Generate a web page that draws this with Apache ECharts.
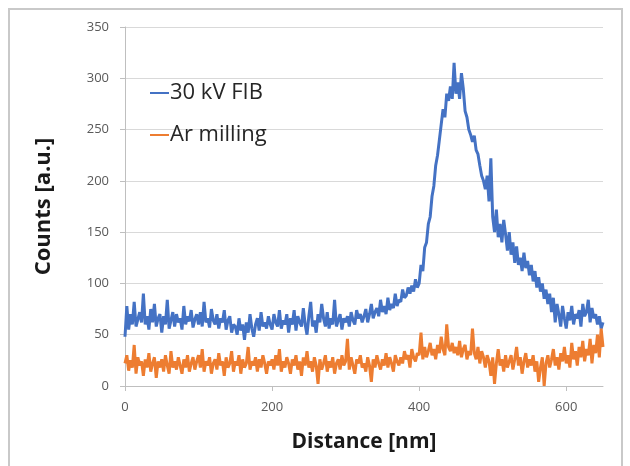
<!DOCTYPE html>
<html>
<head>
<meta charset="utf-8">
<script src="https://cdn.jsdelivr.net/npm/echarts@6/dist/echarts.min.js"></script>
<style>
html,body{margin:0;padding:0;background:#fff;}
#chart{width:630px;height:466px;}
</style>
</head>
<body>
<div id="chart"></div>
<script>
// Sampling grid of the profiles (nm)
const distanceStart = 0;
const distanceStep = 2.5;

// 30 kV FIB profile (counts), one value per 2.5 nm from 0 to 650 nm
const fibCounts = [
  48, 78, 55, 70, 60, 82, 58, 65, 72, 62,
  90, 60, 68, 55, 75, 62, 80, 58, 66, 70,
  52, 68, 60, 84, 56, 64, 72, 58, 70, 62,
  66, 55, 78, 60, 68, 63, 74, 57, 65, 70,
  60, 72, 58, 82, 62, 66, 57, 75, 64, 60,
  70, 56, 66, 62, 74, 55, 64, 68, 52, 60,
  58, 50, 66, 54, 60, 45, 62, 52, 70, 56,
  48, 60, 66, 54, 72, 58, 62, 56, 68, 60,
  55, 70, 62, 58, 74, 56, 64, 60, 70, 52,
  66, 60, 74, 54, 68, 62, 58, 76, 60, 50,
  68, 82, 58, 64, 52, 70, 62, 80, 66, 58,
  72, 56, 66, 60, 84, 58, 64, 70, 55, 66,
  62, 68, 58, 72, 64, 60, 74, 66, 70, 62,
  68, 75, 62, 70, 80, 66, 72, 76, 68, 84,
  72, 78, 70, 86, 74, 80, 76, 90, 78, 84,
  82, 94, 86, 88, 96, 90, 98, 92, 104, 96,
  100, 118, 112, 135, 140, 158, 165, 185, 195, 215,
  225, 240, 255, 270, 262, 285, 278, 292, 280, 315,
  285, 296, 280, 305, 290, 268, 262, 250, 245, 238,
  244, 230, 226, 215, 205, 200, 192, 205, 180, 222,
  165, 150, 172, 145, 158, 140, 162, 148, 132, 150,
  128, 140, 120, 136, 118, 125, 112, 130, 115, 122,
  108, 118, 102, 112, 96, 106, 92, 100, 85, 94,
  80, 90, 72, 86, 62, 80, 70, 58, 78, 66,
  56, 72, 64, 78, 60, 70, 66, 74, 58, 80,
  68, 72, 84, 62, 76, 66, 70, 60, 68, 56,
  62
];

// Ar milling profile (counts), same sampling
const arCounts = [
  22, 30, 15, 25, 18, 40, 12, 28, 20, 24,
  10, 26, 18, 32, 14, 22, 28, 8, 24, 18,
  26, 14, 30, 20, 12, 34, 18, 24, 16, 28,
  20, 12, 26, 18, 30, 14, 22, 28, 16, 24,
  30, 18, 36, 14, 24, 20, 28, 12, 22, 26,
  16, 32, 20, 24, 10, 28, 18, 22, 34, 14,
  24, 20, 30, 12, 26, 18, 22, 38, 16, 24,
  20, 28, 14, 26, 18, 30, 22, 12, 24, 20,
  26, 16, 30, 20, 36, 14, 24, 18, 28, 22,
  12, 26, 20, 30, 16, 24, 10, 28, 20, 34,
  18, 24, 14, 28, 20, 2, 26, 16, 22, 30,
  14, 24, 18, 28, 12, 22, 26, 16, 30, 20,
  24, 46, 16, 28, 20, 12, 26, 22, 30, 18,
  22, 14, 28, 20, 4, 26, 18, 30, 22, 16,
  26, 20, 32, 18, 28, 22, 14, 30, 24, 20,
  28, 22, 34, 26, 30, 18, 36, 28, 24, 32,
  30, 52, 26, 38, 28, 34, 42, 30, 36, 26,
  40, 32, 48, 36, 30, 60, 38, 34, 42, 32,
  38, 30, 44, 28, 36, 40, 26, 34, 30, 56,
  32, 26, 38, 22, 34, 28, 18, 30, 24, 10,
  28, 2, 22, 36, 20, 26, 14, 30, 18, 24,
  30, 16, 26, 38, 20, 28, 12, 24, 32, 18,
  26, 20, 30, 14, 24, 4, 18, 28, 0, 22,
  30, 18, 26, 36, 20, 28, 16, 32, 24, 38,
  22, 30, 18, 42, 26, 34, 20, 38, 28, 44,
  24, 36, 30, 46, 22, 40, 32, 50, 28, 56,
  38
];

const seriesNames = ['30 kV FIB', 'Ar milling'];
const xTicks = [0, 200, 400, 600];
const yTicks = [0, 50, 100, 150, 200, 250, 300, 350];

function toPairs(values) {
  return values.map((v, i) => [distanceStart + i * distanceStep, v]);
}

const chart = echarts.init(document.getElementById('chart'), null, {renderer: 'canvas'});
const font = '"Open Sans", "Liberation Sans", sans-serif';
chart.setOption({
  animation: false,
  backgroundColor: '#ffffff',
  graphic: [{
    type: 'rect',
    shape: {x: 9, y: 9, width: 613, height: 470},
    style: {fill: 'none', stroke: '#c9c9c9', lineWidth: 2},
    silent: true,
    z: -1
  }],
  grid: {left: 125, right: 27, top: 27, bottom: 80, containLabel: false},
  legend: {
    orient: 'vertical',
    left: 145,
    top: 77,
    itemGap: 20,
    itemWidth: 19,
    itemHeight: 2,
    icon: 'rect',
    data: seriesNames,
    textStyle: {fontFamily: font, fontSize: 22, color: '#262626', padding: [0, 0, 0, -4]}
  },
  xAxis: {
    type: 'value',
    min: 0,
    max: 650,
    interval: 200,
    name: 'Distance [nm]',
    nameLocation: 'middle',
    nameGap: 46,
    nameTextStyle: {fontFamily: font, fontSize: 21, fontWeight: 'bold', color: '#1a1a1a'},
    axisLine: {show: true, lineStyle: {color: '#bfbfbf', width: 1}},
    axisTick: {show: true, length: 5, lineStyle: {color: '#bfbfbf'}},
    axisLabel: {
      fontFamily: font, fontSize: 13, color: '#595959', margin: 15,
      showMaxLabel: false,
      formatter: v => (xTicks.indexOf(v) >= 0 ? String(v) : '')
    },
    splitLine: {show: false}
  },
  yAxis: {
    type: 'value',
    min: 0,
    max: 350,
    interval: 50,
    name: 'Counts [a.u.]',
    nameLocation: 'middle',
    nameGap: 70,
    nameTextStyle: {fontFamily: font, fontSize: 22, fontWeight: 'bold', color: '#1a1a1a'},
    axisLine: {show: true, lineStyle: {color: '#bfbfbf', width: 1}},
    axisTick: {show: true, length: 5, lineStyle: {color: '#bfbfbf'}},
    axisLabel: {
      fontFamily: font, fontSize: 13, color: '#595959', margin: 16,
      formatter: v => (yTicks.indexOf(v) >= 0 ? String(v) : '')
    },
    splitLine: {show: true, lineStyle: {color: '#d9d9d9', width: 1}}
  },
  series: [
    {
      name: seriesNames[0],
      type: 'line',
      data: toPairs(fibCounts),
      showSymbol: false,
      symbol: 'none',
      lineStyle: {color: '#4472c4', width: 3},
      itemStyle: {color: '#4472c4'}
    },
    {
      name: seriesNames[1],
      type: 'line',
      data: toPairs(arCounts),
      showSymbol: false,
      symbol: 'none',
      lineStyle: {color: '#ed7d31', width: 3},
      itemStyle: {color: '#ed7d31'}
    }
  ]
});
</script>
</body>
</html>
